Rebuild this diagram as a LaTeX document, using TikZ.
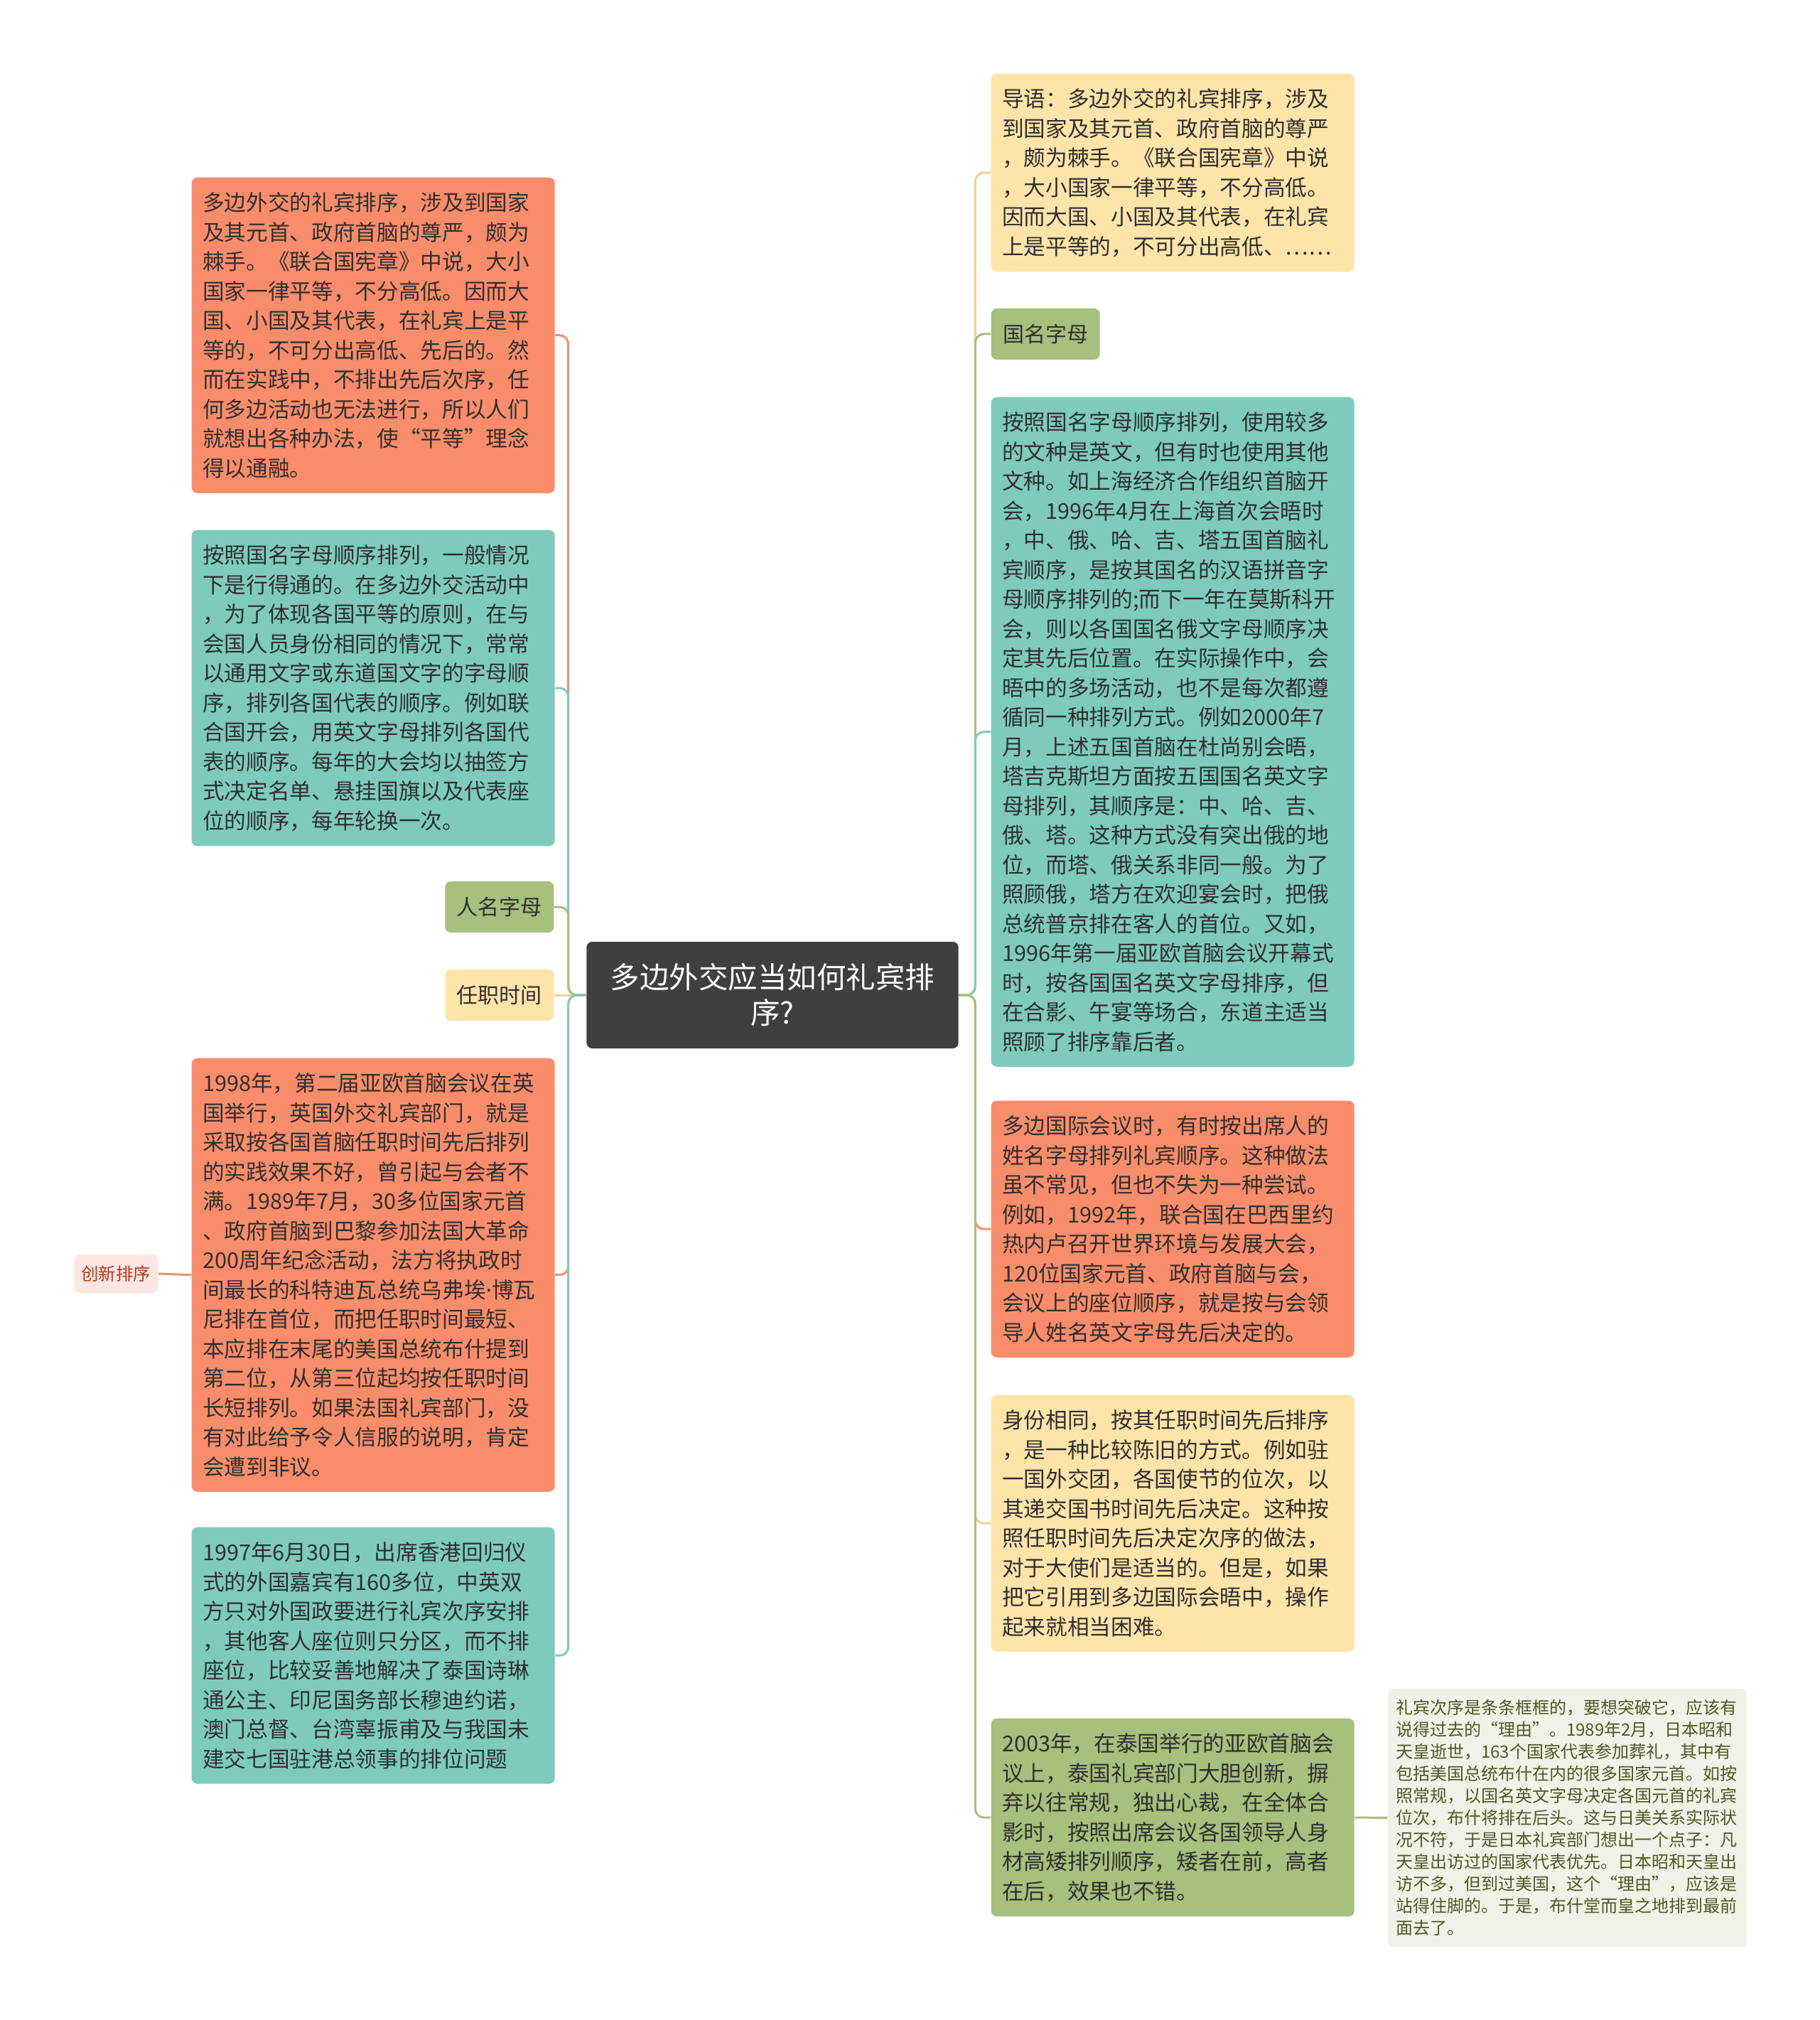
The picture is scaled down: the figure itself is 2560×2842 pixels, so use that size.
\documentclass[tikz,border=0pt]{standalone}
\usepackage{fontspec}
\setmainfont{Noto Sans CJK SC}
\newfontfamily\narrowdot{Noto Sans}

\definecolor{orangebox}{HTML}{F98D6B}
\definecolor{tealbox}{HTML}{7ECBBE}
\definecolor{yellowbox}{HTML}{FFE4AA}
\definecolor{greenbox}{HTML}{A6C07D}
\definecolor{rootbox}{HTML}{3F3F3F}
\definecolor{pinkbox}{HTML}{FDE6E1}
\definecolor{notebox}{HTML}{EFF2E7}
\definecolor{yellowline}{HTML}{F6CF8E}
\definecolor{pinktext}{HTML}{B03A22}
\definecolor{notetext}{HTML}{4A5A26}
\definecolor{boxtext}{HTML}{2F2F2F}

\begin{document}
\begin{tikzpicture}[x=0.3pt, y=-0.3pt,
	box/.style={rectangle, rounded corners=2.4pt, anchor=north west, inner xsep=4.65pt, inner ysep=6.3pt, text width=144pt, align=left, text=boxtext, font=\fontsize{9.2pt}{12.45pt}\selectfont},
	notenode/.style={rectangle, rounded corners=2.4pt, anchor=north west, inner xsep=3.45pt, inner ysep=4.7pt, text width=144.6pt, align=left, text=notetext, fill=notebox, font=\fontsize{7.2pt}{9.3pt}\selectfont},
	tag/.style={rectangle, rounded corners=2.4pt, inner xsep=4.95pt, inner ysep=0pt, minimum height=21.6pt, text=boxtext, font=\fontsize{9pt}{10pt}\selectfont},
	link/.style={line width=0.9pt, rounded corners=3.6pt}]

	\useasboundingbox (0,0) rectangle (2560,2842);

	\draw (1087,1400) node (root) [rectangle, rounded corners=2.4pt, fill=rootbox, text=white, inner sep=0pt, minimum width=157pt, minimum height=45pt, text width=150pt, align=center, font=\fontsize{12.45pt}{15pt}\selectfont] {多边外交应当如何礼宾排\\序?};

	\draw (269,249) node (l1) [box, fill=orangebox] {多边外交的礼宾排序，涉及到国家\\及其元首、政府首脑的尊严，颇为\\棘手。《联合国宪章》中说，大小\\国家一律平等，不分高低。因而大\\国、小国及其代表，在礼宾上是平\\等的，不可分出高低、先后的。然\\而在实践中，不排出先后次序，任\\何多边活动也无法进行，所以人们\\就想出各种办法，使“平等”理念\\得以通融。};
	\draw (269,745) node (l2) [box, fill=tealbox] {按照国名字母顺序排列，一般情况\\下是行得通的。在多边外交活动中\\，为了体现各国平等的原则，在与\\会国人员身份相同的情况下，常常\\以通用文字或东道国文字的字母顺\\序，排列各国代表的顺序。例如联\\合国开会，用英文字母排列各国代\\表的顺序。每年的大会均以抽签方\\式决定名单、悬挂国旗以及代表座\\位的顺序，每年轮换一次。};
	\draw (780,1276) node (tagname) [tag, anchor=east, fill=greenbox] {人名字母};
	\draw (780,1400) node (tagtime) [tag, anchor=east, fill=yellowbox] {任职时间};
	\draw (269,1488) node (l3) [box, fill=orangebox] {1998年，第二届亚欧首脑会议在英\\国举行，英国外交礼宾部门，就是\\采取按各国首脑任职时间先后排列\\的实践效果不好，曾引起与会者不\\满。1989年7月，30多位国家元首\\、政府首脑到巴黎参加法国大革命\\200周年纪念活动，法方将执政时\\间最长的科特迪瓦总统乌弗埃{\narrowdot ·}博瓦\\尼排在首位，而把任职时间最短、\\本应排在末尾的美国总统布什提到\\第二位，从第三位起均按任职时间\\长短排列。如果法国礼宾部门，没\\有对此给予令人信服的说明，肯定\\会遭到非议。};
	\draw (223,1792) node (tagnew) [rectangle, rounded corners=2.4pt, anchor=east, fill=pinkbox, text=pinktext, inner xsep=3pt, inner ysep=0pt, minimum height=16.2pt, font=\fontsize{7.35pt}{8pt}\selectfont] {创新排序};
	\draw (269,2148) node (l4) [box, fill=tealbox] {1997年6月30日，出席香港回归仪\\式的外国嘉宾有160多位，中英双\\方只对外国政要进行礼宾次序安排\\，其他客人座位则只分区，而不排\\座位，比较妥善地解决了泰国诗琳\\通公主、印尼国务部长穆迪约诺，\\澳门总督、台湾辜振甫及与我国未\\建交七国驻港总领事的排位问题};

	\draw (1394,103) node (r1) [box, fill=yellowbox] {导语：多边外交的礼宾排序，涉及\\到国家及其元首、政府首脑的尊严\\，颇为棘手。《联合国宪章》中说\\，大小国家一律平等，不分高低。\\因而大国、小国及其代表，在礼宾\\上是平等的，不可分出高低、……};
	\draw (1394,470) node (tagcountry) [tag, anchor=west, fill=greenbox] {国名字母};
	\draw (1394,558) node (r2) [box, fill=tealbox] {按照国名字母顺序排列，使用较多\\的文种是英文，但有时也使用其他\\文种。如上海经济合作组织首脑开\\会，1996年4月在上海首次会晤时\\，中、俄、哈、吉、塔五国首脑礼\\宾顺序，是按其国名的汉语拼音字\\母顺序排列的;而下一年在莫斯科开\\会，则以各国国名俄文字母顺序决\\定其先后位置。在实际操作中，会\\晤中的多场活动，也不是每次都遵\\循同一种排列方式。例如2000年7\\月，上述五国首脑在杜尚别会晤，\\塔吉克斯坦方面按五国国名英文字\\母排列，其顺序是：中、哈、吉、\\俄、塔。这种方式没有突出俄的地\\位，而塔、俄关系非同一般。为了\\照顾俄，塔方在欢迎宴会时，把俄\\总统普京排在客人的首位。又如，\\1996年第一届亚欧首脑会议开幕式\\时，按各国国名英文字母排序，但\\在合影、午宴等场合，东道主适当\\照顾了排序靠后者。};
	\draw (1394,1548) node (r3) [box, fill=orangebox] {多边国际会议时，有时按出席人的\\姓名字母排列礼宾顺序。这种做法\\虽不常见，但也不失为一种尝试。\\例如，1992年，联合国在巴西里约\\热内卢召开世界环境与发展大会，\\120位国家元首、政府首脑与会，\\会议上的座位顺序，就是按与会领\\导人姓名英文字母先后决定的。};
	\draw (1394,1962) node (r4) [box, fill=yellowbox] {身份相同，按其任职时间先后排序\\，是一种比较陈旧的方式。例如驻\\一国外交团，各国使节的位次，以\\其递交国书时间先后决定。这种按\\照任职时间先后决定次序的做法，\\对于大使们是适当的。但是，如果\\把它引用到多边国际会晤中，操作\\起来就相当困难。};
	\draw (1394,2417) node (r5) [box, fill=greenbox] {2003年，在泰国举行的亚欧首脑会\\议上，泰国礼宾部门大胆创新，摒\\弃以往常规，独出心裁，在全体合\\影时，按照出席会议各国领导人身\\材高矮排列顺序，矮者在前，高者\\在后，效果也不错。};
	\draw (1952,2375) node (note) [notenode] {礼宾次序是条条框框的，要想突破它，应该有\\说得过去的“理由”。1989年2月，日本昭和\\天皇逝世，163个国家代表参加葬礼，其中有\\包括美国总统布什在内的很多国家元首。如按\\照常规，以国名英文字母决定各国元首的礼宾\\位次，布什将排在后头。这与日美关系实际状\\况不符，于是日本礼宾部门想出一个点子：凡\\天皇出访过的国家代表优先。日本昭和天皇出\\访不多，但到过美国，这个“理由”，应该是\\站得住脚的。于是，布什堂而皇之地排到最前\\面去了。};

	\draw[link, orangebox] (root.west) -- ++(-25,0) |- (l1.east);
	\draw[link, tealbox] (root.west) -- ++(-25,0) |- (l2.east);
	\draw[link, greenbox] (root.west) -- ++(-25,0) |- (tagname.east);
	\draw[link, yellowline] (root.west) -- (tagtime.east);
	\draw[link, orangebox] (root.west) -- ++(-25,0) |- (l3.east);
	\draw[link, tealbox] (root.west) -- ++(-25,0) |- (l4.east);
	\draw[link, orangebox] (l3.west) -- (tagnew.east);

	\draw[link, yellowline] (root.east) -- ++(23,0) |- (r1.west);
	\draw[link, greenbox] (root.east) -- ++(23,0) |- (tagcountry.west);
	\draw[link, tealbox] (root.east) -- ++(23,0) |- (r2.west);
	\draw[link, orangebox] (root.east) -- ++(23,0) |- (r3.west);
	\draw[link, yellowline] (root.east) -- ++(23,0) |- (r4.west);
	\draw[link, greenbox] (root.east) -- ++(23,0) |- (r5.west);
	\draw[link, greenbox] (r5.east) -- (note.west);

\end{tikzpicture}
\end{document}
